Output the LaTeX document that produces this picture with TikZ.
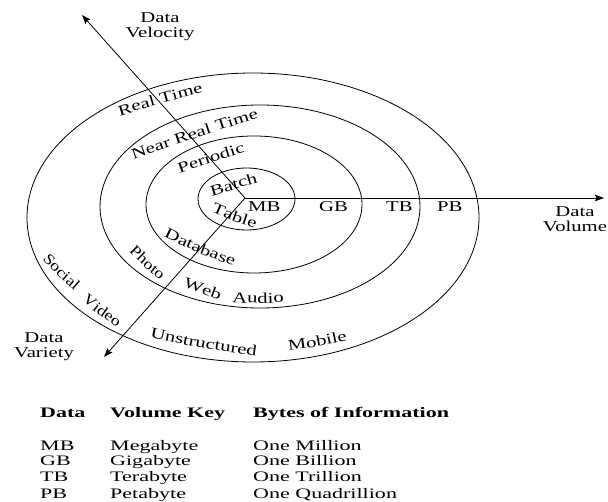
\documentclass[tikz,border=0pt]{standalone}
\usepackage{fontspec}
\setmainfont{Liberation Serif}[FakeStretch=1.38]
\newfontfamily\tabfamily{Liberation Serif}[FakeStretch=1.52]
\newfontfamily\steepfamily{Liberation Serif}[FakeStretch=1.2]
\usetikzlibrary{arrows.meta,decorations.text}
\newcommand{\lblfont}{\fontsize{15}{15}\selectfont}
\newcommand{\steepfont}{\steepfamily\fontsize{15}{15}\selectfont}
\newcommand{\tabfont}{\tabfamily\fontsize{14.5}{16}\selectfont}
\begin{document}
\begin{tikzpicture}[x=1pt,y=1pt,
  ring/.style={line width=0.8pt},
  axisline/.style={line width=0.8pt,-{Stealth[length=9pt,width=6.5pt,inset=1.5pt]}},
  lbl/.style={font=\lblfont,inner sep=0pt},
  tab/.style={font=\tabfont,inner sep=0pt,anchor=base west},
  tabhead/.style={font=\tabfont\bfseries,inner sep=0pt,anchor=base west},
  curved/.style={decorate,decoration={text along path,text={|\lblfont|#1},text align=center}},
  steepcurved/.style={decorate,decoration={text along path,text={|\steepfont|#1},text align=center}}
]
\useasboundingbox (0,0) rectangle (608,-502);

% rings
\draw[ring] (246.5,-199) ellipse [x radius=48.5pt, y radius=31pt];
\draw[ring] (254,-204.5) ellipse [x radius=108pt, y radius=68.5pt];
\draw[ring] (260,-206.5) ellipse [x radius=160pt, y radius=101.5pt];
\draw[ring] (253,-217.5) ellipse [x radius=226pt, y radius=144.5pt];

% axes
\coordinate (C) at (245,-198);
\coordinate (velTip) at (82,-15);
\coordinate (volTip) at (604,-198);
\coordinate (varTip) at (104,-357);
\draw[axisline] (C) -- (velTip);
\draw[axisline] (C) -- (volTip);
\draw[axisline] (C) -- (varTip);

% axis labels
\node[lbl,align=center,anchor=north] (velLbl) at (160,-12) {Data\\Velocity};
\node[lbl,align=center,anchor=north] (volLbl) at (575,-206) {Data\\Volume};
\node[lbl,align=center,anchor=north] (varLbl) at (44,-332) {Data\\Variety};

% volume marks
\node[lbl,anchor=base west] (mb) at (248,-211.5) {MB};
\node[lbl,anchor=base west] (gb) at (319,-211.5) {GB};
\node[lbl,anchor=base west] (tb) at (386,-211.5) {TB};
\node[lbl,anchor=base west] (pb) at (437,-211.5) {PB};

% velocity labels
\path[curved={Real Time}] (105.6,-120.2) -- (120,-116) .. controls (160.8,-103.3) .. (203,-92) -- (217.4,-87.8);
\path[curved={Near Real Time}] (119.8,-163.7) -- (134,-159) .. controls (196,-137.6) .. (258,-118) -- (272.2,-113.3);
\path[curved={Periodic}] (166.7,-177.6) -- (181,-173) .. controls (212.5,-162.1) .. (244,-152.5) -- (258.3,-147.9);
\path[curved={Batch}] (197.6,-200.2) -- (212,-196) .. controls (235,-189) .. (258,-182.5) -- (272.4,-178.3);

% variety labels
\path[curved={Table}] (198,-206.7) -- (212,-212) .. controls (232.5,-221.1) .. (254,-228) -- (268,-233.3);
\path[curved={Database}] (150.2,-231.2) -- (164,-237) .. controls (199.2,-253.5) .. (233,-266) -- (246.8,-271.8);
\path[steepcurved={Photo}] (117.9,-242) -- (129,-252) .. controls (143.8,-266.7) .. (160,-280) -- (171.1,-290);
\path[curved={Web}] (170,-281.6) -- (184,-287) .. controls (201,-293.5) .. (218,-300) -- (232,-305.4);
\path[curved={Audio}] (217,-301.85) -- (232,-302) .. controls (258,-303.6) .. (284,-302.5) -- (299,-302.65);
\path[steepcurved={Social}] (31.2,-248.6) -- (42,-259) .. controls (57.6,-275.9) .. (75,-291) -- (85.8,-301.4);
\path[steepcurved={Video}] (70,-292) -- (82,-301) .. controls (98.8,-314.9) .. (117,-327) -- (129,-336);
\path[curved={Unstructured}] (133.2,-334.4) -- (148,-337) .. controls (203,-348.5) .. (258,-356) -- (272.8,-358.6);
\path[curved={Mobile}] (272.2,-353.6) -- (287,-351) .. controls (318,-346.6) .. (349,-340) -- (363.8,-337.4);

% key table
\node[tabhead] (hData) at (40,-418) {Data};
\node[tabhead] (hKey) at (110,-418) {Volume Key};
\node[tabhead] (hBytes) at (253,-418) {Bytes of Information};
\node[tab] (r1a) at (40,-450) {MB};
\node[tab] (r1b) at (110,-450) {Megabyte};
\node[tab] (r1c) at (253,-450) {One Million};
\node[tab] (r2a) at (40,-466) {GB};
\node[tab] (r2b) at (110,-466) {Gigabyte};
\node[tab] (r2c) at (253,-466) {One Billion};
\node[tab] (r3a) at (40,-482) {TB};
\node[tab] (r3b) at (110,-482) {Terabyte};
\node[tab] (r3c) at (253,-482) {One Trillion};
\node[tab] (r4a) at (40,-498) {PB};
\node[tab] (r4b) at (110,-498) {Petabyte};
\node[tab] (r4c) at (253,-498) {One Quadrillion};
\end{tikzpicture}
\end{document}
